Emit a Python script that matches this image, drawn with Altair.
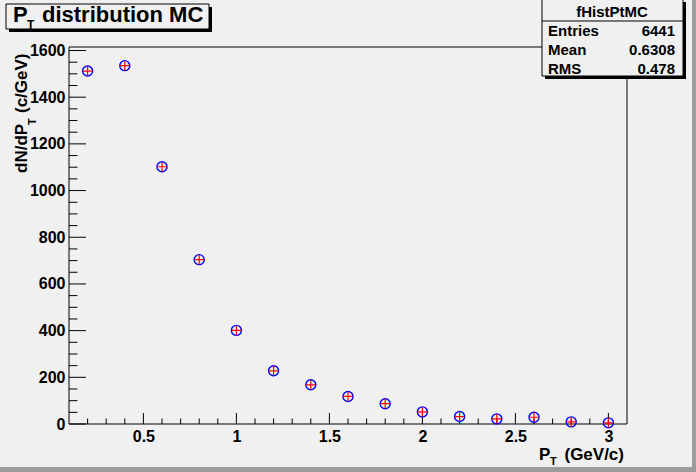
import altair as alt
import pandas as pd

# ---- data ----
pt = [0.2, 0.4, 0.6, 0.8, 1.0, 1.2, 1.4, 1.6, 1.8, 2.0, 2.2, 2.4, 2.6, 2.8, 3.0]
dndpt = [1512, 1535, 1102, 704, 401, 228, 168, 118, 87, 52, 32, 22, 29, 9, 5]

x_major = [0.5, 1.0, 1.5, 2.0, 2.5, 3.0]
x_minor = [0.2, 0.3, 0.4, 0.6, 0.7, 0.8, 0.9, 1.1, 1.2, 1.3, 1.4, 1.6, 1.7, 1.8, 1.9,
           2.1, 2.2, 2.3, 2.4, 2.6, 2.7, 2.8, 2.9]
y_major = [0, 200, 400, 600, 800, 1000, 1200, 1400, 1600]
y_minor = [50, 100, 150, 250, 300, 350, 450, 500, 550, 650, 700, 750, 850, 900, 950,
           1050, 1100, 1150, 1250, 1300, 1350, 1450, 1500, 1550]

stat_labels = ["Entries", "Mean", "RMS"]
stat_values = ["6441", "0.6308", "0.478"]

W, H = 558, 377
BG = "#f0f0f0"
FONT = "Liberation Sans"

xs = alt.Scale(domain=[0.1, 3.1], nice=False, zero=False)
ys = alt.Scale(domain=[0, 1615], nice=False, zero=False)

xaxis = alt.Axis(values=x_major, format="~g", ticks=False, domain=False, grid=False,
                 labelFont=FONT, labelFontWeight="bold", labelFontSize=16,
                 labelColor="black", labelPadding=4, labelFlush=False, title=None)
yaxis = alt.Axis(values=y_major, format="d", ticks=False, domain=False, grid=False,
                 labelFont=FONT, labelFontWeight="bold", labelFontSize=16,
                 labelColor="black", labelPadding=4, labelFlush=False, title=None)

X = alt.X("pt:Q", scale=xs, axis=xaxis)
Y = alt.Y("v:Q", scale=ys, axis=yaxis)

one = pd.DataFrame({"a": [0]})


def rect(x1, x2, y1, y2, fill, stroke=None, sw=1):
    kw = dict(fill=fill)
    if stroke:
        kw.update(stroke=stroke, strokeWidth=sw)
    return alt.Chart(one).mark_rect(**kw).encode(
        x=alt.value(x1), x2=alt.value(x2), y=alt.value(y1), y2=alt.value(y2))


def text(t, x, y, size, align="left", angle=0):
    kw = dict(font=FONT, fontWeight="bold", fontSize=size, color="black",
              align=align, baseline="alphabetic")
    if angle:
        kw["angle"] = angle
    return alt.Chart(pd.DataFrame({"t": [t]})).mark_text(**kw).encode(
        text="t:N", x=alt.value(x), y=alt.value(y))


# canvas bevel
bevel_b = rect(-69, 627, 420, 425, "#9c9c9c")
bevel_r = rect(623, 627, -47, 425, "#9c9c9c")

# frame
frame = alt.Chart(one).mark_rect(fill=BG, stroke="black", strokeWidth=1).encode(
    x=alt.value(0), x2=alt.value(W), y=alt.value(0), y2=alt.value(H))

# ticks (pointing inward, ROOT style)
df_xM = pd.DataFrame({"pt": x_major})
df_xm = pd.DataFrame({"pt": x_minor})
df_yM = pd.DataFrame({"v": y_major})
df_ym = pd.DataFrame({"v": y_minor})
xt_major = alt.Chart(df_xM).mark_rule(color="black", strokeWidth=1).encode(
    x=X, y=alt.value(H), y2=alt.value(H - 11))
xt_minor = alt.Chart(df_xm).mark_rule(color="black", strokeWidth=1).encode(
    x=X, y=alt.value(H), y2=alt.value(H - 5.5))
yt_major = alt.Chart(df_yM).mark_rule(color="black", strokeWidth=1).encode(
    y=Y, x=alt.value(0), x2=alt.value(17))
yt_minor = alt.Chart(df_ym).mark_rule(color="black", strokeWidth=1).encode(
    y=Y, x=alt.value(0), x2=alt.value(8.5))

# data points
df = pd.DataFrame({"pt": pt, "v": dndpt})
circles = alt.Chart(df).mark_point(shape="circle", size=100, filled=False,
                                   stroke="#0000ff", strokeWidth=1.4, opacity=1).encode(x=X, y=Y)
crosses = alt.Chart(df).mark_point(shape="M-1,0L1,0M0,-1L0,1", size=90, filled=False,
                                   stroke="#ff0000", strokeWidth=1.2, opacity=1).encode(x=X, y=Y)

# axis titles
xt1 = text("P", 470, 413, 17)
xt2 = text("T", 481, 418, 11)
xt3 = text("(GeV/c)", 555, 413, 17, align="right")
yt1 = text("dN/dP", -42, 126, 17, angle=270)
yt2 = text("T", -33, 78, 11, angle=270)
yt3 = text("(c/GeV)", -42, 66, 17, angle=270)

# title box
tb_sh = rect(-60, 143, -40, -15, "black")
tb = rect(-63, 140, -43, -18, BG, stroke="black")
tt1 = text("P", -56, -25, 22)
tt2 = text("T", -42, -18, 12)
tt3 = text("distribution MC", -27, -25, 22)

# stats box
sb_sh = rect(476, 617, -45, 32, "black")
sb = rect(473, 614, -48, 29, BG, stroke="black")
sb_line = alt.Chart(one).mark_rule(color="black", strokeWidth=1).encode(
    x=alt.value(473), x2=alt.value(614), y=alt.value(-26))
s_head = text("fHistPtMC", 543, -30, 15, align="center")
s_rows = []
for lab, val, yy in zip(stat_labels, stat_values, [-11, 8, 27]):
    s_rows.append(text(lab, 479, yy, 15))
    s_rows.append(text(val, 606, yy, 15, align="right"))

chart = alt.layer(
    bevel_b, bevel_r, frame,
    xt_minor, xt_major, yt_minor, yt_major,
    circles, crosses,
    xt1, xt2, xt3, yt1, yt2, yt3,
    tb_sh, tb, tt1, tt2, tt3,
    sb_sh, sb, sb_line, s_head, *s_rows,
).properties(
    width=W, height=H, background=BG,
    padding={"left": 69, "top": 47, "right": 69, "bottom": 48},
    autosize=alt.AutoSizeParams(type="none"),
).configure_view(stroke="transparent", fill=BG)

chart.save("out.html", embed_options={"renderer": "svg", "actions": False})
